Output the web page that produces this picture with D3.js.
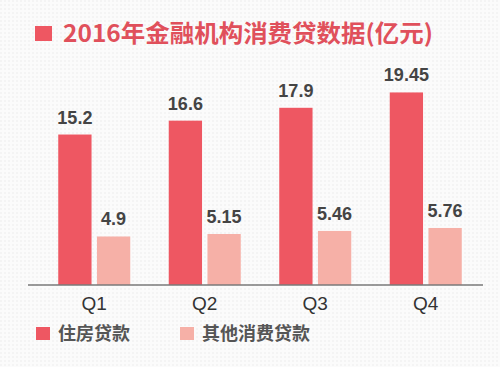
<!DOCTYPE html>
<html>
<head>
<meta charset="utf-8">
<style>
  body { margin: 0; padding: 0; background: #fafafa; }
  svg { display: block; }
</style>
<script src="https://cdn.jsdelivr.net/npm/d3@7/dist/d3.min.js"></script>
</head>
<body>
<svg id="chart" width="500" height="367"></svg>
<script>
// 2016 consumer loan data (100 million yuan)
const quarters = ['Q1', 'Q2', 'Q3', 'Q4'];
const housingLoans = [15.2, 16.6, 17.9, 19.45];
const otherLoans = [4.9, 5.15, 5.46, 5.76];
const seriesNames = ['住房贷款', '其他消费贷款'];
const titleText = '2016年金融机构消费贷数据(亿元)';

const colors = ['#ee5762', '#f6b0a7'];
const svg = d3.select('#chart');
const width = +svg.attr('width');
const height = +svg.attr('height');

// dotted paper background
const defs = svg.append('defs');
const pat = defs.append('pattern')
  .attr('id', 'dots')
  .attr('width', 4)
  .attr('height', 4)
  .attr('patternUnits', 'userSpaceOnUse');
pat.append('rect').attr('width', 4).attr('height', 4).attr('fill', '#fbfbfb');
pat.append('circle').attr('cx', 1).attr('cy', 1).attr('r', 0.8).attr('fill', '#ececec');
svg.append('rect')
  .attr('width', width)
  .attr('height', height)
  .attr('fill', 'url(#dots)');

const baseline = 285;

const x = d3.scaleBand()
  .domain(quarters)
  .range([39, 481]);

const xInner = d3.scaleBand()
  .domain([0, 1])
  .range([0, 72])
  .paddingInner(0.14);

const y = d3.scaleLinear()
  .domain([0, 20])
  .range([baseline, 87]);

const groups = [housingLoans, otherLoans];

groups.forEach((values, s) => {
  svg.append('g')
    .selectAll('rect')
    .data(values)
    .enter()
    .append('rect')
    .attr('x', (d, i) => x(quarters[i]) + (x.bandwidth() - 72) / 2 + xInner(s))
    .attr('y', d => y(d))
    .attr('width', xInner.bandwidth())
    .attr('height', d => baseline - y(d))
    .attr('fill', colors[s]);

  svg.append('g')
    .selectAll('text')
    .data(values)
    .enter()
    .append('text')
    .attr('x', (d, i) => x(quarters[i]) + (x.bandwidth() - 72) / 2 + xInner(s) + xInner.bandwidth() / 2)
    .attr('y', d => y(d) - 11)
    .attr('text-anchor', 'middle')
    .attr('font-family', 'Arial, "Liberation Sans", sans-serif')
    .attr('font-weight', 'bold')
    .attr('font-size', 18)
    .attr('fill', '#444')
    .text(d => d);
});

// axis line + quarter labels
const xAxis = d3.axisBottom(x).tickSize(0).tickPadding(12);
const axisG = svg.append('g')
  .attr('transform', `translate(0, ${baseline})`)
  .call(xAxis);
axisG.select('.domain').remove();
axisG.append('line')
  .attr('x1', 28)
  .attr('x2', 483)
  .attr('stroke', '#7a7a7a')
  .attr('stroke-width', 1.5);
axisG.selectAll('.tick text')
  .attr('font-family', 'Arial, "Liberation Sans", sans-serif')
  .attr('font-size', 19)
  .attr('fill', '#333');

// title
svg.append('rect')
  .attr('x', 35)
  .attr('y', 26)
  .attr('width', 17)
  .attr('height', 15)
  .attr('fill', colors[0]);
svg.append('text')
  .attr('x', 63)
  .attr('y', 42)
  .attr('font-family', '"Noto Sans CJK SC", sans-serif')
  .attr('font-weight', 'bold')
  .attr('font-size', 24)
  .attr('fill', '#e0505b')
  .attr('textLength', 370)
  .attr('lengthAdjust', 'spacingAndGlyphs')
  .text(titleText);

// legend
const legendX = [36, 180];
const legend = svg.append('g');
seriesNames.forEach((name, i) => {
  legend.append('rect')
    .attr('x', legendX[i])
    .attr('y', 327)
    .attr('width', 14)
    .attr('height', 13)
    .attr('fill', colors[i]);
  legend.append('text')
    .attr('x', legendX[i] + 22)
    .attr('y', 340)
    .attr('font-family', '"Noto Sans CJK SC", sans-serif')
    .attr('font-weight', 'bold')
    .attr('font-size', 18)
    .attr('fill', '#555')
    .text(name);
});
</script>
</body>
</html>
